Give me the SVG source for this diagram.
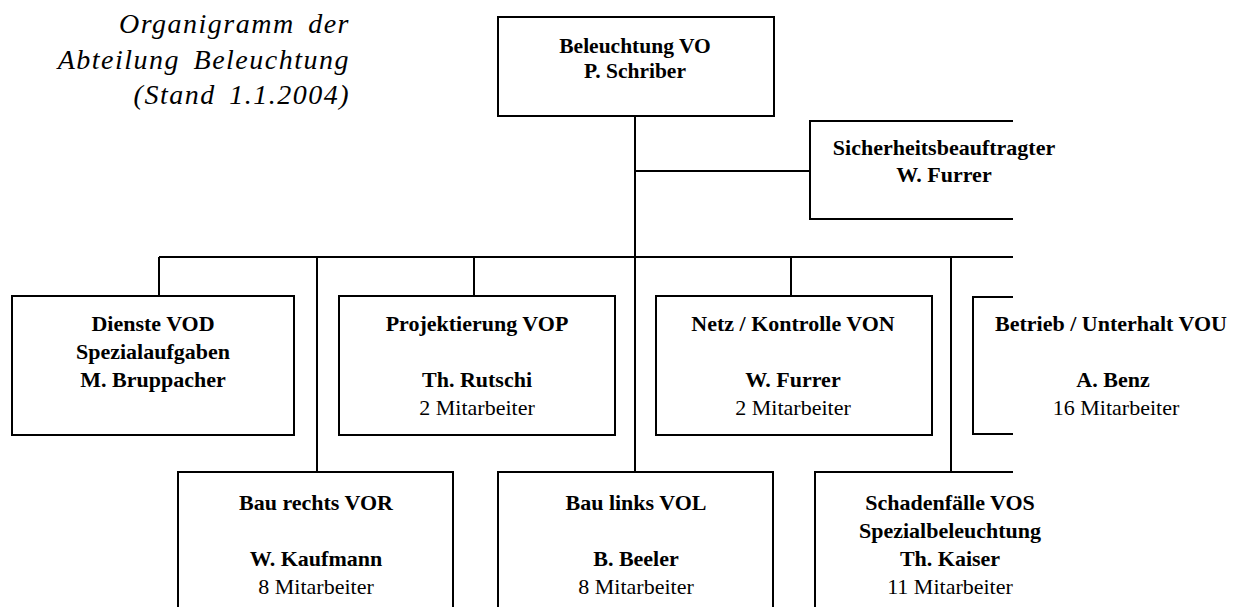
<svg xmlns="http://www.w3.org/2000/svg" width="1244" height="607" viewBox="0 0 1244 607">
<style>
.box{fill:#fff;stroke:#000;stroke-width:2}
.open{fill:none;stroke:#000;stroke-width:2}
.ln{fill:none;stroke:#000;stroke-width:2}
text{font-family:"Liberation Serif","Times New Roman",serif;font-size:22px;fill:#000;text-anchor:middle}
.b{font-weight:bold}
.title{font-style:italic;font-size:28px;text-anchor:end;letter-spacing:1.5px;word-spacing:5px}
</style>
<rect width="1244" height="607" fill="#fff"/>
<g id="title">
<text class="title" x="350" y="33">Organigramm der</text>
<text class="title" x="350" y="69">Abteilung Beleuchtung</text>
<text class="title" x="350" y="104">(Stand 1.1.2004)</text>
</g>
<g id="connectors">
<line class="ln" x1="635" y1="116" x2="635" y2="472"/>
<line class="ln" x1="635" y1="171" x2="810" y2="171"/>
<line class="ln" x1="159" y1="257" x2="1013" y2="257"/>
<line class="ln" x1="159" y1="257" x2="159" y2="296"/>
<line class="ln" x1="317" y1="257" x2="317" y2="472"/>
<line class="ln" x1="474" y1="257" x2="474" y2="296"/>
<line class="ln" x1="791" y1="257" x2="791" y2="296"/>
<line class="ln" x1="951" y1="257" x2="951" y2="472"/>
</g>
<g id="node-vo">
<rect class="box" x="498" y="17" width="276" height="99"/>
<text class="b" x="635" y="53" style="font-size:21.5px">Beleuchtung VO</text>
<text class="b" x="635" y="78" style="font-size:21.5px">P. Schriber</text>
</g>
<g id="node-sicherheit">
<polyline class="open" points="1013,121 810,121 810,219 1013,219"/>
<text class="b" x="944" y="155">Sicherheitsbeauftragter</text>
<text class="b" x="944" y="182">W. Furrer</text>
</g>
<g id="node-vod">
<rect class="box" x="12" y="296" width="282" height="139"/>
<text class="b" x="153" y="331">Dienste VOD</text>
<text class="b" x="153" y="359">Spezialaufgaben</text>
<text class="b" x="153" y="387">M. Bruppacher</text>
</g>
<g id="node-vop">
<rect class="box" x="339" y="296" width="276" height="139"/>
<text class="b" x="477" y="331">Projektierung VOP</text>
<text class="b" x="477" y="387">Th. Rutschi</text>
<text x="477" y="415">2 Mitarbeiter</text>
</g>
<g id="node-von">
<rect class="box" x="656" y="296" width="276" height="139"/>
<text class="b" x="793" y="331">Netz / Kontrolle VON</text>
<text class="b" x="793" y="387">W. Furrer</text>
<text x="793" y="415">2 Mitarbeiter</text>
</g>
<g id="node-vou">
<polyline class="open" points="1013,297 973,297 973,434 1013,434"/>
<text class="b" x="1111" y="331">Betrieb / Unterhalt VOU</text>
<text class="b" x="1113" y="387">A. Benz</text>
<text x="1116" y="415">16 Mitarbeiter</text>
</g>
<g id="node-vor">
<rect class="box" x="178" y="472" width="275" height="160"/>
<text class="b" x="316" y="510">Bau rechts VOR</text>
<text class="b" x="316" y="566">W. Kaufmann</text>
<text x="316" y="594">8 Mitarbeiter</text>
</g>
<g id="node-vol">
<rect class="box" x="498" y="472" width="275" height="160"/>
<text class="b" x="636" y="510">Bau links VOL</text>
<text class="b" x="636" y="566">B. Beeler</text>
<text x="636" y="594">8 Mitarbeiter</text>
</g>
<g id="node-vos">
<polyline class="open" points="1013,472 815,472 815,640"/>
<text class="b" x="950" y="510">Schadenfälle VOS</text>
<text class="b" x="950" y="538">Spezialbeleuchtung</text>
<text class="b" x="950" y="566">Th. Kaiser</text>
<text x="950" y="594">11 Mitarbeiter</text>
</g>
</svg>
